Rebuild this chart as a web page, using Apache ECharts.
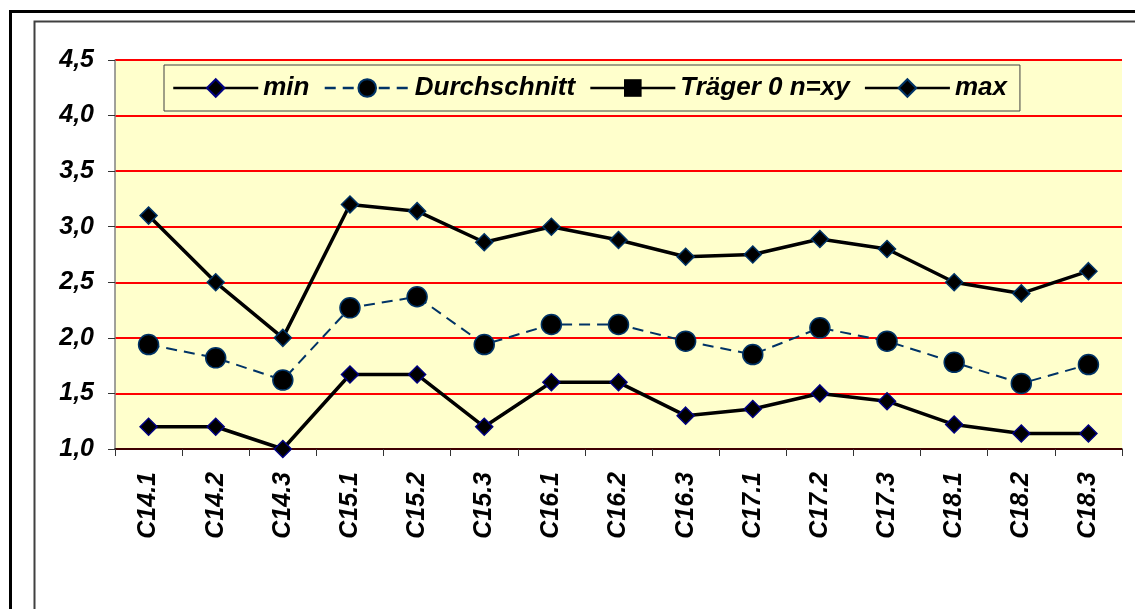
<!DOCTYPE html>
<html>
<head>
<meta charset="utf-8">
<script src="https://cdn.jsdelivr.net/npm/echarts@6/dist/echarts.min.js"></script>
<style>
html,body{margin:0;padding:0;background:#fff;}
#chart{width:1135px;height:609px;}
</style>
</head>
<body>
<div id="chart"></div>
<script>
const categories = ['C14.1','C14.2','C14.3','C15.1','C15.2','C15.3','C16.1','C16.2','C16.3','C17.1','C17.2','C17.3','C18.1','C18.2','C18.3'];
const minValues = [1.2, 1.2, 1.0, 1.67, 1.67, 1.2, 1.6, 1.6, 1.3, 1.36, 1.5, 1.43, 1.22, 1.14, 1.14];
const avgValues = [1.94, 1.82, 1.62, 2.27, 2.37, 1.94, 2.12, 2.12, 1.97, 1.85, 2.09, 1.97, 1.78, 1.59, 1.76];
const traegerValues = [];
const maxValues = [3.1, 2.5, 2.0, 3.2, 3.14, 2.86, 3.0, 2.88, 2.73, 2.75, 2.89, 2.8, 2.5, 2.4, 2.6];
const seriesNames = ['min', 'Durchschnitt', 'Träger 0 n=xy', 'max'];

const FONT = '"Liberation Sans", Arial, sans-serif';
const chart = echarts.init(document.getElementById('chart'), null, {renderer: 'canvas'});

chart.setOption({
  animation: false,
  backgroundColor: '#ffffff',
  graphic: [
    {type: 'rect', left: 8, top: 9, z: -10, shape: {x: 0, y: 0, width: 1145, height: 620}, style: {fill: 'none', stroke: '#000', lineWidth: 3}},
    {type: 'rect', left: 32, top: 19, z: -10, shape: {x: 0, y: 0, width: 1120, height: 610}, style: {fill: 'none', stroke: '#404040', lineWidth: 2}}
  ],
  grid: {left: 115, right: 13, top: 60, bottom: 160, show: true, backgroundColor: '#FFFFCC', borderWidth: 0},
  legend: {
    left: 164, top: 65,
    data: seriesNames.map(n => ({name: n, lineStyle: {width: 2.5}})),
    backgroundColor: '#FFFFCC',
    borderColor: '#404040',
    borderWidth: 1,
    borderRadius: 0,
    padding: [10, 13, 10, 8],
    itemGap: 14,
    itemWidth: 85,
    itemHeight: 22,
    textStyle: {fontFamily: FONT, fontSize: 26, fontWeight: 'bold', fontStyle: 'italic', color: '#000'}
  },
  xAxis: {
    type: 'category',
    data: categories,
    boundaryGap: true,
    axisLine: {lineStyle: {color: '#000', width: 1.5}},
    axisTick: {show: true, length: 7, lineStyle: {color: '#333'}},
    axisLabel: {rotate: 90, margin: 23, fontFamily: FONT, fontSize: 25, fontWeight: 'bold', fontStyle: 'italic', color: '#000'}
  },
  yAxis: {
    type: 'value',
    min: 1, max: 4.5, interval: 0.5,
    axisLine: {show: true, lineStyle: {color: '#808080', width: 1.5}},
    axisTick: {show: true, length: 7, lineStyle: {color: '#333'}},
    splitLine: {show: true, lineStyle: {color: '#FF0000', width: 2}},
    axisLabel: {margin: 21, fontFamily: FONT, fontSize: 25, fontWeight: 'bold', fontStyle: 'italic', color: '#000',
      formatter: v => v.toFixed(1).replace('.', ',')}
  },
  series: [
    {name: 'min', type: 'line', data: minValues, symbol: 'diamond', symbolSize: 17,
      lineStyle: {color: '#000', width: 3.5}, itemStyle: {color: '#000', borderColor: '#000080', borderWidth: 1.5}, z: 3},
    {name: 'Durchschnitt', type: 'line', data: avgValues, symbol: 'circle', symbolSize: 20,
      lineStyle: {color: '#003366', width: 2, type: [11, 7]}, itemStyle: {color: '#000', borderColor: '#003366', borderWidth: 1.5}, z: 3},
    {name: 'Träger 0 n=xy', type: 'line', data: traegerValues, symbol: 'rect', symbolSize: 16,
      lineStyle: {color: '#000', width: 3.5}, itemStyle: {color: '#000'}, z: 3},
    {name: 'max', type: 'line', data: maxValues, symbol: 'diamond', symbolSize: 17,
      lineStyle: {color: '#000', width: 3.5}, itemStyle: {color: '#000', borderColor: '#003366', borderWidth: 1.5}, z: 3}
  ]
});
</script>
</body>
</html>
